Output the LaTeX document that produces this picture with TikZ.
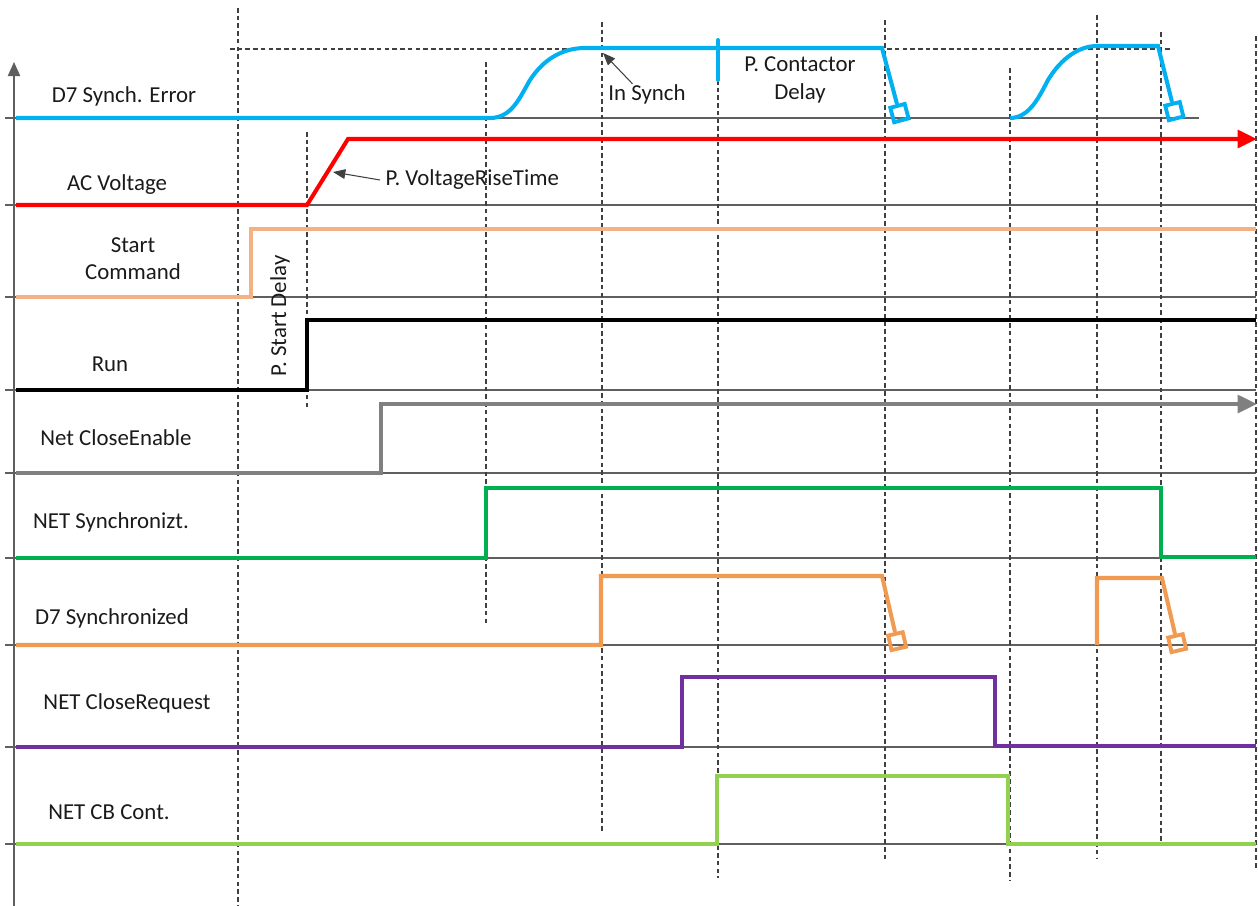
\documentclass[tikz,border=0pt]{standalone}
\usepackage{fontspec}
\setmainfont{Carlito}
\usetikzlibrary{arrows.meta}
\definecolor{sigBlue}{HTML}{00B0F0}
\definecolor{sigRed}{HTML}{FF0000}
\definecolor{sigPeach}{HTML}{F4B183}
\definecolor{sigGray}{HTML}{808080}
\definecolor{sigGreen}{HTML}{00B050}
\definecolor{sigOrange}{HTML}{F09A52}
\definecolor{sigPurple}{HTML}{7030A0}
\definecolor{sigLime}{HTML}{92D050}
\definecolor{gridGray}{HTML}{5F5F5F}
\definecolor{guideGray}{HTML}{404040}
\definecolor{textDark}{HTML}{1A1A1A}

\begin{document}
\begin{tikzpicture}[x=0.02cm, y=-0.02cm, font=\fontsize{13}{15.5}\selectfont,
    base/.style={draw=gridGray, line width=0.7pt},
    guide/.style={draw=guideGray, line width=0.6pt, dash pattern=on 2.6pt off 1.8pt},
    sig/.style={line width=2.3pt},
    sqend/.style={draw, line width=2.2pt, minimum size=8.5pt, inner sep=0pt,
      sloped, allow upside down, anchor=west},
    tipbig/.style={-{Triangle[length=11pt, width=10pt]}},
    note/.style={draw=guideGray, line width=0.6pt, -{Triangle[length=7pt, width=5.5pt]}},
    lbl/.style={inner sep=0pt, text=textDark, align=center}]
  \useasboundingbox (0,0) rectangle (1258,906);

  % axis and base lines
  \draw[gridGray, line width=0.8pt, -{Triangle[length=8pt, width=7pt]}] (14,906) -- (14,62);
  \draw[base] (5,118) -- (1199,118);
  \foreach \by in {205,297,390,473,558,645,747,844}
    \draw[base] (5,\by) -- (1256,\by);

  % guides
  \draw[guide] (230,49) -- (1172,49);
  \foreach \gx/\gt/\gb in {238/8/906, 307/132/407, 486/62/623, 602/22/832, 718/80/878,
      885/20/862, 1010/68/881, 1097/15/858, 1161/32/845, 1256/36/870}
    \draw[guide] (\gx,\gt) -- (\gx,\gb);

  % D7 Synch. Error
  \draw[sig, sigBlue] (16,118) -- (490,118)
    .. controls (512,118) and (520,97) .. (530,80)
    .. controls (545,57) and (565,48) .. (585,48) -- (882,48) -- (897,104)
    node[sqend, pos=1] (errEndA) {};
  \draw[sig, sigBlue] (1010,118)
    .. controls (1030,118) and (1040,95) .. (1048,80)
    .. controls (1062,57) and (1080,46) .. (1097,46) -- (1158,46) -- (1172,102)
    node[sqend, pos=1] (errEndB) {};
  \draw[sig, sigBlue, line cap=round] (718,40) -- (718,80);

  % AC Voltage
  \draw[sig, sigRed, tipbig] (16,205) -- (307,205) -- (348,139) -- (1257,139);
  % Start Command
  \draw[sig, sigPeach] (16,297) -- (251,297) -- (251,229) -- (1256,229);
  % Run
  \draw[sig, black] (16,390) -- (307,390) -- (307,320) -- (1256,320);
  % Net CloseEnable
  \draw[sig, sigGray, tipbig] (16,473) -- (381,473) -- (381,404) -- (1257,404);
  % NET Synchronizt.
  \draw[sig, sigGreen] (16,558) -- (486,558) -- (486,488) -- (1161,488) -- (1161,557) -- (1256,557);
  % D7 Synchronized
  \draw[sig, sigOrange] (16,645) -- (601,645) -- (601,576) -- (882,576) -- (895,632)
    node[sqend, pos=1] (synEndA) {};
  \draw[sig, sigOrange] (1097,645) -- (1097,578) -- (1162,578) -- (1175,634)
    node[sqend, pos=1] (synEndB) {};
  % NET CloseRequest
  \draw[sig, sigPurple] (16,747) -- (682,747) -- (682,677) -- (995,677) -- (995,746) -- (1256,746);
  % NET CB Cont.
  \draw[sig, sigLime] (16,844) -- (717,844) -- (717,776) -- (1008,776) -- (1008,844) -- (1256,844);

  % signal names
  \node[lbl] (synchErr) at (124,96) {D7 Synch. Error};
  \node[lbl] (acVolt) at (117,185) {AC Voltage};
  \node[lbl] (startCmd) at (133,259) {Start\\Command};
  \node[lbl] (run) at (110,364) {Run};
  \node[lbl] (closeEn) at (116,438) {Net CloseEnable};
  \node[lbl] (netSynch) at (111,522) {NET Synchronizt.};
  \node[lbl] (d7Synch) at (112,618) {D7 Synchronized};
  \node[lbl] (closeReq) at (127,703) {NET CloseRequest};
  \node[lbl] (cbCont) at (109,812) {NET CB Cont.};

  % timing notes
  \node[lbl, anchor=west, inner sep=3pt] (riseTxt) at (380,180) {P. VoltageRiseTime};
  \coordinate (riseAt) at (333,172);
  \draw[note] (riseTxt.west) -- (riseAt);
  \node[lbl] (synchTxt) at (647,94) {In Synch};
  \coordinate (synchAt) at (603,53);
  \draw[note] (synchTxt.145) -- (synchAt);
  \node[lbl] (contTxt) at (800,80) {P. Contactor\\Delay};
  \node[lbl, rotate=90] (startDly) at (280,316) {P. Start Delay};
\end{tikzpicture}
\end{document}
